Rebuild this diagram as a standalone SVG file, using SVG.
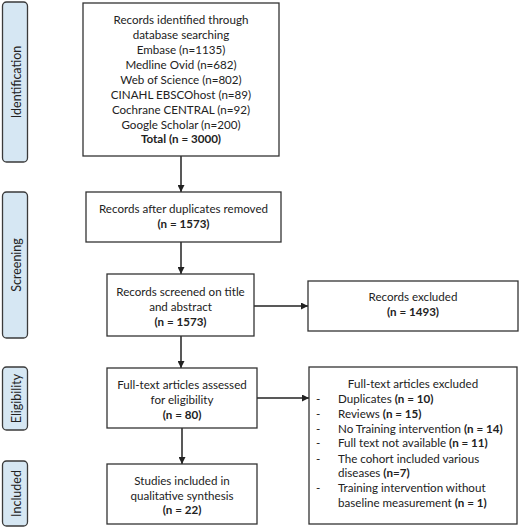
<svg xmlns="http://www.w3.org/2000/svg" width="520" height="528" viewBox="0 0 520 528">
<defs>
<style>
.side{fill:#d6e7f3;stroke:#3a3a3a;stroke-width:1.3}
.box{fill:#fff;stroke:#333;stroke-width:1.3}
text{font-family:Lato,"Liberation Sans",sans-serif;font-size:11.6px;fill:#222}
.s{font-size:12.5px}
.c{text-anchor:middle}
.b{font-weight:bold}
.conn{stroke:#222;stroke-width:1.5;fill:none;marker-end:url(#ah)}
</style>
<marker id="ah" viewBox="0 0 10 10" refX="10" refY="5" markerWidth="7" markerHeight="7" markerUnits="userSpaceOnUse" orient="auto">
<path d="M0,0 L10,5 L0,10 z" fill="#222"/>
</marker>
</defs>
<rect width="520" height="528" fill="#fff"/>

<g id="side-identification">
<rect class="side" x="2.5" y="2" width="25" height="160" rx="4"/>
<text class="c s" transform="translate(20.5,82) rotate(-90)">Identification</text>
</g>
<g id="side-screening">
<rect class="side" x="2.5" y="192" width="25" height="146" rx="4"/>
<text class="c s" transform="translate(20.5,265) rotate(-90)">Screening</text>
</g>
<g id="side-eligibility">
<rect class="side" x="2.5" y="367" width="25" height="63" rx="4"/>
<text class="c s" transform="translate(20.5,398.5) rotate(-90)">Eligibility</text>
</g>
<g id="side-included">
<rect class="side" x="2.5" y="461" width="25" height="65" rx="4"/>
<text class="c s" transform="translate(20.5,493.5) rotate(-90)">Included</text>
</g>

<g id="connectors">
<line class="conn" x1="181" y1="156" x2="181" y2="192"/>
<line class="conn" x1="181" y1="242" x2="181" y2="274"/>
<line class="conn" x1="181" y1="336" x2="181" y2="368"/>
<line class="conn" x1="182" y1="428" x2="182" y2="464"/>
<line class="conn" x1="254" y1="306" x2="308" y2="306"/>
<line class="conn" x1="257" y1="398" x2="309" y2="398"/>
</g>

<g id="records-identified">
<rect class="box" x="83" y="3" width="196" height="153"/>
<text class="c" x="181" y="23.5">Records identified through</text>
<text class="c" x="181" y="38.5">database searching</text>
<text class="c" x="181" y="53.5">Embase (n=1135)</text>
<text class="c" x="181" y="68.5">Medline Ovid (n=682)</text>
<text class="c" x="181" y="83.5">Web of Science (n=802)</text>
<text class="c" x="181" y="98.5">CINAHL EBSCOhost (n=89)</text>
<text class="c" x="181" y="113.5">Cochrane CENTRAL (n=92)</text>
<text class="c" x="181" y="128.5">Google Scholar (n=200)</text>
<text class="c b" x="181" y="143">Total (n = 3000)</text>
</g>

<g id="duplicates-removed">
<rect class="box" x="86" y="192" width="195" height="50"/>
<text class="c" x="183.5" y="213">Records after duplicates removed</text>
<text class="c b" x="183.5" y="228">(n = 1573)</text>
</g>

<g id="records-screened">
<rect class="box" x="107" y="274" width="147" height="62"/>
<text class="c" x="180.5" y="296">Records screened on title</text>
<text class="c" x="180.5" y="311">and abstract</text>
<text class="c b" x="180.5" y="326">(n = 1573)</text>
</g>

<g id="records-excluded">
<rect class="box" x="308" y="281" width="210" height="50"/>
<text class="c" x="413" y="301">Records excluded</text>
<text class="c b" x="413" y="316">(n = 1493)</text>
</g>

<g id="fulltext-assessed">
<rect class="box" x="107" y="368" width="150" height="60"/>
<text class="c" x="182" y="389">Full-text articles assessed</text>
<text class="c" x="182" y="404">for eligibility</text>
<text class="c b" x="182" y="419">(n = 80)</text>
</g>

<g id="fulltext-excluded">
<rect class="box" x="309" y="367" width="208" height="157"/>
<text class="c" x="413" y="388">Full-text articles excluded</text>
<text x="316" y="403">-</text><text x="338" y="403">Duplicates <tspan class="b">(n = 10)</tspan></text>
<text x="316" y="418">-</text><text x="338" y="418">Reviews <tspan class="b">(n = 15)</tspan></text>
<text x="316" y="433">-</text><text x="338" y="433">No Training intervention <tspan class="b">(n = 14)</tspan></text>
<text x="316" y="447">-</text><text x="338" y="447">Full text not available <tspan class="b">(n = 11)</tspan></text>
<text x="316" y="463">-</text><text x="338" y="463">The cohort included various</text>
<text x="338" y="477">diseases <tspan class="b">(n=7)</tspan></text>
<text x="316" y="492">-</text><text x="338" y="492">Training intervention without</text>
<text x="338" y="507">baseline measurement <tspan class="b">(n = 1)</tspan></text>
</g>

<g id="studies-included">
<rect class="box" x="107" y="464" width="150" height="60"/>
<text class="c" x="182" y="485">Studies included in</text>
<text class="c" x="182" y="500">qualitative synthesis</text>
<text class="c b" x="182" y="514">(n = 22)</text>
</g>
</svg>
